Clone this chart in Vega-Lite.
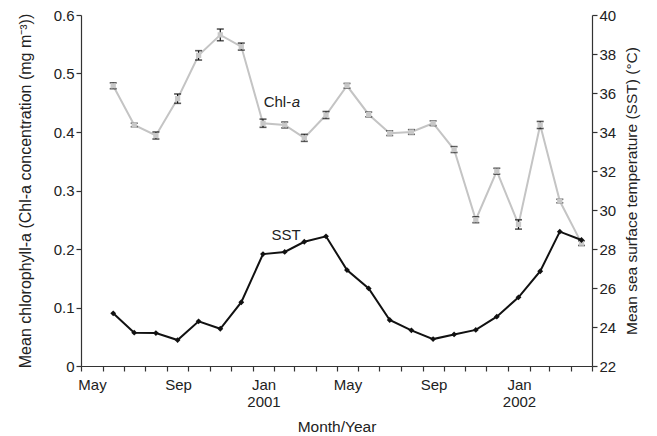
{
  "$schema": "https://vega.github.io/schema/vega-lite/v6.json",
  "width": 511,
  "height": 351,
  "autosize": "none",
  "padding": {"left": 81, "top": 15, "right": 65, "bottom": 70},
  "background": "white",
  "config": {
    "view": {"stroke": null},
    "font": "Liberation Sans",
    "axis": {
      "grid": false,
      "domainColor": "#333333",
      "tickColor": "#333333",
      "labelColor": "#222222",
      "titleColor": "#222222",
      "labelFont": "Liberation Sans",
      "titleFont": "Liberation Sans",
      "labelFontSize": 15,
      "titleFontSize": 15.5,
      "titleFontWeight": "normal",
      "tickSize": 5,
      "domainWidth": 1.2,
      "tickWidth": 1.2
    }
  },
  "data": {
    "values": [
      {"date": "2000-06-16", "chl": 0.479, "lo": 0.474, "hi": 0.484, "sst": 24.70},
      {"date": "2000-07-16", "chl": 0.412, "lo": 0.409, "hi": 0.415, "sst": 23.71},
      {"date": "2000-08-16", "chl": 0.394, "lo": 0.388, "hi": 0.400, "sst": 23.69},
      {"date": "2000-09-16", "chl": 0.457, "lo": 0.449, "hi": 0.465, "sst": 23.33},
      {"date": "2000-10-16", "chl": 0.531, "lo": 0.523, "hi": 0.539, "sst": 24.29},
      {"date": "2000-11-16", "chl": 0.566, "lo": 0.556, "hi": 0.576, "sst": 23.91},
      {"date": "2000-12-16", "chl": 0.546, "lo": 0.540, "hi": 0.552, "sst": 25.27},
      {"date": "2001-01-16", "chl": 0.415, "lo": 0.408, "hi": 0.422, "sst": 27.74},
      {"date": "2001-02-16", "chl": 0.412, "lo": 0.407, "hi": 0.417, "sst": 27.85},
      {"date": "2001-03-16", "chl": 0.390, "lo": 0.384, "hi": 0.396, "sst": 28.37},
      {"date": "2001-04-16", "chl": 0.429, "lo": 0.423, "hi": 0.435, "sst": 28.65},
      {"date": "2001-05-16", "chl": 0.479, "lo": 0.475, "hi": 0.483, "sst": 26.92},
      {"date": "2001-06-16", "chl": 0.430, "lo": 0.426, "hi": 0.434, "sst": 25.98},
      {"date": "2001-07-16", "chl": 0.398, "lo": 0.394, "hi": 0.402, "sst": 24.36},
      {"date": "2001-08-16", "chl": 0.400, "lo": 0.396, "hi": 0.404, "sst": 23.83},
      {"date": "2001-09-16", "chl": 0.415, "lo": 0.411, "hi": 0.419, "sst": 23.38},
      {"date": "2001-10-16", "chl": 0.370, "lo": 0.365, "hi": 0.375, "sst": 23.62},
      {"date": "2001-11-16", "chl": 0.250, "lo": 0.245, "hi": 0.255, "sst": 23.85},
      {"date": "2001-12-16", "chl": 0.333, "lo": 0.328, "hi": 0.338, "sst": 24.53},
      {"date": "2002-01-16", "chl": 0.242, "lo": 0.234, "hi": 0.250, "sst": 25.52},
      {"date": "2002-02-16", "chl": 0.412, "lo": 0.406, "hi": 0.418, "sst": 26.86},
      {"date": "2002-03-16", "chl": 0.282, "lo": 0.279, "hi": 0.285, "sst": 28.89},
      {"date": "2002-04-16", "chl": 0.210, "lo": 0.206, "hi": 0.214, "sst": 28.46}
    ]
  },
  "encoding": {
    "x": {
      "field": "date",
      "type": "temporal",
      "scale": {
        "type": "utc",
        "domain": [
          {"year": 2000, "month": 5, "date": 1, "utc": true},
          {"year": 2002, "month": 5, "date": 1, "utc": true}
        ]
      },
      "axis": {
        "title": "Month/Year",
        "tickCount": {"interval": "month", "step": 1},
        "labelExpr": "utcyear(datum.value)==2002 && utcmonth(datum.value)==4 ? '' : (utcmonth(datum.value)==4 ? 'May' : (utcmonth(datum.value)==8 ? 'Sep' : (utcmonth(datum.value)==0 ? ['Jan', '' + utcyear(datum.value)] : '')))",
        "labelOffset": 11,
        "labelOverlap": false,
        "labelFlush": false,
        "labelBound": false,
        "labelPadding": 6,
        "labelLineHeight": 17,
        "titlePadding": 10
      }
    }
  },
  "layer": [
    {
      "layer": [
        {
          "mark": {"type": "line", "color": "#c4c4c4", "strokeWidth": 2},
          "encoding": {
            "y": {
              "field": "chl",
              "type": "quantitative",
              "scale": {"domain": [0, 0.6], "nice": false},
              "axis": {
                "title": "Mean chlorophyll-a  (Chl-a concentration (mg m⁻³))",
                "values": [0, 0.1, 0.2, 0.3, 0.4, 0.5, 0.6],
                "labelExpr": "datum.value == 0 ? '0' : format(datum.value, '.1f')",
                "titlePadding": 20,
                "titleFontSize": 16
              }
            }
          }
        },
        {
          "mark": {"type": "rule", "color": "#111111", "strokeWidth": 1.2},
          "encoding": {
            "y": {
              "field": "lo",
              "type": "quantitative",
              "axis": {
                "title": "Mean chlorophyll-a  (Chl-a concentration (mg m⁻³))",
                "values": [0, 0.1, 0.2, 0.3, 0.4, 0.5, 0.6],
                "labelExpr": "datum.value == 0 ? '0' : format(datum.value, '.1f')",
                "titlePadding": 20,
                "titleFontSize": 16
              }
            },
            "y2": {"field": "hi"}
          }
        },
        {
          "mark": {"type": "tick", "color": "#111111", "thickness": 1.6, "size": 7},
          "encoding": {
            "y": {
              "field": "lo",
              "type": "quantitative",
              "axis": {
                "title": "Mean chlorophyll-a  (Chl-a concentration (mg m⁻³))",
                "values": [0, 0.1, 0.2, 0.3, 0.4, 0.5, 0.6],
                "labelExpr": "datum.value == 0 ? '0' : format(datum.value, '.1f')",
                "titlePadding": 20,
                "titleFontSize": 16
              }
            }
          }
        },
        {
          "mark": {"type": "tick", "color": "#111111", "thickness": 1.6, "size": 7},
          "encoding": {
            "y": {
              "field": "hi",
              "type": "quantitative",
              "axis": {
                "title": "Mean chlorophyll-a  (Chl-a concentration (mg m⁻³))",
                "values": [0, 0.1, 0.2, 0.3, 0.4, 0.5, 0.6],
                "labelExpr": "datum.value == 0 ? '0' : format(datum.value, '.1f')",
                "titlePadding": 20,
                "titleFontSize": 16
              }
            }
          }
        },
        {
          "mark": {"type": "point", "shape": "square", "filled": true, "color": "#c8c8c8", "size": 28, "opacity": 1},
          "encoding": {
            "y": {
              "field": "chl",
              "type": "quantitative",
              "axis": {
                "title": "Mean chlorophyll-a  (Chl-a concentration (mg m⁻³))",
                "values": [0, 0.1, 0.2, 0.3, 0.4, 0.5, 0.6],
                "labelExpr": "datum.value == 0 ? '0' : format(datum.value, '.1f')",
                "titlePadding": 20,
                "titleFontSize": 16
              }
            }
          }
        },
        {
          "data": {
            "values": [
              {"date": "2001-01-17", "val": 0.452, "label": "Chl-"},
              {"date": "2001-01-28", "val": 0.224, "label": "SST"}
            ]
          },
          "mark": {"type": "text", "align": "left", "baseline": "middle", "fontSize": 15, "color": "#222222", "font": "Liberation Sans"},
          "encoding": {
            "y": {
              "field": "val",
              "type": "quantitative",
              "axis": {
                "title": "Mean chlorophyll-a  (Chl-a concentration (mg m⁻³))",
                "values": [0, 0.1, 0.2, 0.3, 0.4, 0.5, 0.6],
                "labelExpr": "datum.value == 0 ? '0' : format(datum.value, '.1f')",
                "titlePadding": 20,
                "titleFontSize": 16
              }
            },
            "text": {"field": "label"}
          }
        },
        {
          "data": {
            "values": [
              {"date": "2001-01-17", "val": 0.452, "label": "a"}
            ]
          },
          "mark": {"type": "text", "align": "left", "baseline": "middle", "fontSize": 15, "fontStyle": "italic", "dx": 28, "color": "#222222", "font": "Liberation Sans"},
          "encoding": {
            "y": {
              "field": "val",
              "type": "quantitative",
              "axis": {
                "title": "Mean chlorophyll-a  (Chl-a concentration (mg m⁻³))",
                "values": [0, 0.1, 0.2, 0.3, 0.4, 0.5, 0.6],
                "labelExpr": "datum.value == 0 ? '0' : format(datum.value, '.1f')",
                "titlePadding": 20,
                "titleFontSize": 16
              }
            },
            "text": {"field": "label"}
          }
        }
      ]
    },
    {
      "layer": [
        {
          "mark": {"type": "line", "color": "#111111", "strokeWidth": 2},
          "encoding": {
            "y": {
              "field": "sst",
              "type": "quantitative",
              "scale": {"domain": [22, 40], "nice": false, "zero": false},
              "axis": {
                "orient": "right",
                "title": "Mean sea surface temperature (SST) (°C)",
                "values": [22, 24, 26, 28, 30, 32, 34, 36, 38, 40],
                "titlePadding": 9,
                "titleAngle": 270,
                "titleBaseline": "top"
              }
            }
          }
        },
        {
          "mark": {"type": "point", "shape": "diamond", "filled": true, "color": "#111111", "size": 34, "opacity": 1},
          "encoding": {
            "y": {
              "field": "sst",
              "type": "quantitative",
              "axis": {
                "orient": "right",
                "title": "Mean sea surface temperature (SST) (°C)",
                "values": [22, 24, 26, 28, 30, 32, 34, 36, 38, 40],
                "titlePadding": 9,
                "titleAngle": 270,
                "titleBaseline": "top"
              }
            }
          }
        }
      ]
    }
  ],
  "resolve": {"scale": {"y": "independent"}}
}
